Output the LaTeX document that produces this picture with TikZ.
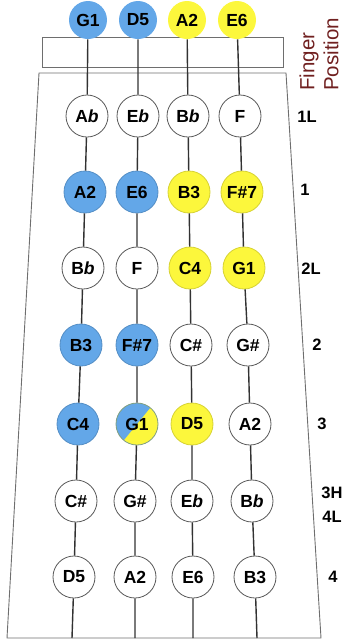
\documentclass[tikz,border=0pt]{standalone}
\usepackage{fontspec}
\setmainfont{Liberation Sans}
\definecolor{noteblue}{RGB}{99,167,232}
\definecolor{noteyellow}{RGB}{252,247,60}
\definecolor{labelred}{RGB}{112,32,32}
\definecolor{stringgray}{RGB}{50,50,50}
\definecolor{framegray}{RGB}{110,110,110}
\newcommand\noteflat{\textit{b}}
\tikzset{
  note/.style={circle, draw=black!65, line width=0.8pt, minimum size=42pt,
    inner sep=0pt, fill=white, font=\fontsize{17.5}{17.5}\selectfont\bfseries},
  bluenote/.style={note, fill=noteblue, draw=noteblue!85!black},
  yellownote/.style={note, fill=noteyellow, draw=noteyellow!85!black},
  openblue/.style={bluenote, draw=none, minimum size=38pt},
  openyellow/.style={yellownote, draw=none, minimum size=38pt},
  splitnote/.style={note, fill=noteyellow, draw=noteblue!60!noteyellow!80!black,
    path picture={
      \fill[noteblue]
        ([shift={(19pt,23.4pt)}]path picture bounding box.center) --
        ([shift={(-19pt,-23.4pt)}]path picture bounding box.center) --
        ([shift={(-45pt,-3pt)}]path picture bounding box.center) --
        ([shift={(-7pt,45pt)}]path picture bounding box.center) -- cycle;
    }},
  stringline/.style={draw=stringgray, line width=1.4pt},
  frameline/.style={draw=framegray, line width=0.9pt},
  poslabel/.style={font=\fontsize{16.5}{16.5}\selectfont\bfseries, inner sep=0pt},
}
\begin{document}
\begin{tikzpicture}[x=1pt, y=-1pt]
\useasboundingbox (0,0) rectangle (347,641);

% nut and fingerboard outline
\draw[frameline] (42,37) rectangle (283,67);
\draw[frameline] (39,73) -- (7,638) -- (321,638) -- (286,73) -- cycle;

% G string
\node[openblue]  (g0) at (88,20)  {G1};
\node[note]      (g1) at (87,116) {A\noteflat};
\node[bluenote]  (g2) at (85,192) {A2};
\node[note]      (g3) at (83,268) {B\noteflat};
\node[bluenote]  (g4) at (81,345) {B3};
\node[bluenote]  (g5) at (78,424) {C4};
\node[note]      (g6) at (76,501) {C\#};
\node[note]      (g7) at (74,577) {D5};
\coordinate      (g8) at (72,638);

% D string
\node[openblue]  (d0) at (138,20)  {D5};
\node[note]      (d1) at (138,116) {E\noteflat};
\node[bluenote]  (d2) at (137,192) {E6};
\node[note]      (d3) at (137,268) {F};
\node[bluenote]  (d4) at (137,345) {F\#7};
\node[splitnote] (d5) at (137,424) {G1};
\node[note]      (d6) at (135,501) {G\#};
\node[note]      (d7) at (135,577) {A2};
\coordinate      (d8) at (135,638);

% A string
\node[openyellow] (a0) at (187,20)  {A2};
\node[note]       (a1) at (188,116) {B\noteflat};
\node[yellownote] (a2) at (189,192) {B3};
\node[yellownote] (a3) at (190,268) {C4};
\node[note]       (a4) at (191,345) {C\#};
\node[yellownote] (a5) at (192,424) {D5};
\node[note]       (a6) at (192,501) {E\noteflat};
\node[note]       (a7) at (193,577) {E6};
\coordinate       (a8) at (193,638);

% E string
\node[openyellow] (e0) at (237,20)  {E6};
\node[note]       (e1) at (240,116) {F};
\node[yellownote] (e2) at (242,192) {F\#7};
\node[yellownote] (e3) at (244,268) {G1};
\node[note]       (e4) at (248,345) {G\#};
\node[note]       (e5) at (250,424) {A2};
\node[note]       (e6) at (252,501) {B\noteflat};
\node[note]       (e7) at (255,577) {B3};
\coordinate       (e8) at (257,638);

% strings between the notes
\foreach \s in {g,d,a,e}{
  \draw[stringline] (\s0) -- (\s1) -- (\s2) -- (\s3) -- (\s4) -- (\s5) -- (\s6) -- (\s7) -- (\s8);
}

% finger position labels
\node[rotate=90, anchor=west, align=left, text=labelred,
      font=\fontsize{20.5}{24}\selectfont, inner sep=0pt] (fp) at (319,91) {Finger\\Position};
\node[poslabel] (p1L) at (307,117) {1L};
\node[poslabel] (p1)  at (305,190) {1};
\node[poslabel] (p2L) at (311,269) {2L};
\node[poslabel] (p2)  at (317,345) {2};
\node[poslabel] (p3)  at (322,424) {3};
\node[poslabel] (p3H) at (332,493) {3H};
\node[poslabel] (p4L) at (332,517) {4L};
\node[poslabel] (p4)  at (333,577) {4};
\end{tikzpicture}
\end{document}
